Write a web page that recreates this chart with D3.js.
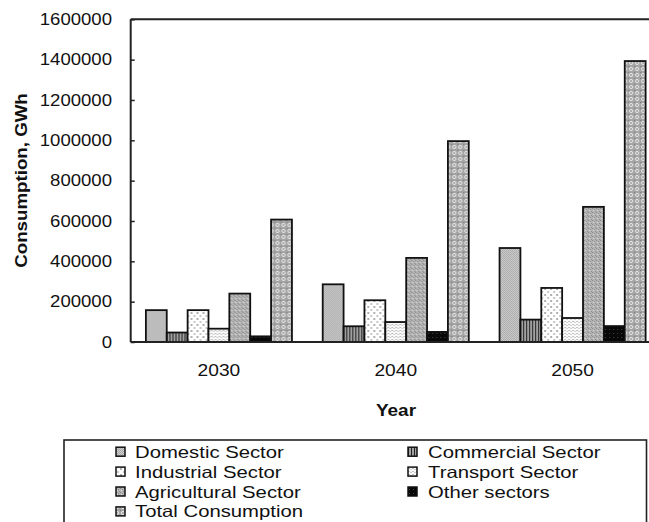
<!DOCTYPE html>
<html><head><meta charset="utf-8">
<script src="https://cdn.jsdelivr.net/npm/d3@7"></script>
<style>body{margin:0;background:#fff}svg{display:block}text{font-family:"Liberation Sans",Arial,sans-serif;fill:#111}</style>
</head><body>
<script>
const years = ["2030","2040","2050"];
const seriesNames = ["Domestic Sector","Commercial Sector","Industrial Sector","Transport Sector","Agricultural Sector","Other sectors","Total Consumption"];
const domestic    = [158000, 286000, 466000];
const commercial  = [47000, 78000, 111000];
const industrial  = [158000, 207000, 268000];
const transport   = [66000, 99000, 119000];
const agricultural= [240000, 417000, 670000];
const other       = [28000, 50000, 79000];
const total       = [607000, 996000, 1393000];
const yTicks = [0,200000,400000,600000,800000,1000000,1200000,1400000,1600000];
const seriesValues = [domestic, commercial, industrial, transport, agricultural, other, total];

const W = 649, H = 522;
const svg = d3.select("body").append("svg").attr("width", W).attr("height", H);
const defs = svg.append("defs");

function pat(id, w, h, build){ const p = defs.append("pattern").attr("id", id).attr("patternUnits","userSpaceOnUse").attr("width", w).attr("height", h); build(p); }
pat("p0", 2, 2, p => { p.append("rect").attr("width",2).attr("height",2).attr("fill","#cfcfcf");
  p.append("rect").attr("width",1).attr("height",1).attr("fill","#a8a8a8");
  p.append("rect").attr("x",1).attr("y",1).attr("width",1).attr("height",1).attr("fill","#a8a8a8"); });
pat("p1", 3, 3, p => { p.append("rect").attr("width",3).attr("height",3).attr("fill","#a0a0a0");
  p.append("rect").attr("width",1).attr("height",3).attr("fill","#222"); });
pat("p2", 6, 6, p => { p.append("rect").attr("width",6).attr("height",6).attr("fill","#fff");
  p.append("rect").attr("x",0).attr("y",0).attr("width",2).attr("height",2).attr("fill","#b0b0b0");
  p.append("rect").attr("x",3).attr("y",3).attr("width",2).attr("height",2).attr("fill","#c8c8c8"); });
pat("p3", 4, 3, p => { p.append("rect").attr("width",4).attr("height",3).attr("fill","#fafafa");
  p.append("rect").attr("x",0).attr("y",0).attr("width",2).attr("height",1).attr("fill","#c0c0c0");
  p.append("rect").attr("x",2).attr("y",1).attr("width",2).attr("height",1).attr("fill","#d0d0d0"); });
pat("p4", 4, 4, p => { p.append("rect").attr("width",4).attr("height",4).attr("fill","#b4b4b4");
  p.append("rect").attr("x",0).attr("y",0).attr("width",1).attr("height",1).attr("fill","#888");
  p.append("rect").attr("x",2).attr("y",1).attr("width",1).attr("height",1).attr("fill","#8a8a8a");
  p.append("rect").attr("x",1).attr("y",2).attr("width",1).attr("height",1).attr("fill","#d8d8d8");
  p.append("rect").attr("x",3).attr("y",3).attr("width",1).attr("height",1).attr("fill","#888"); });
pat("p5", 4, 4, p => { p.append("rect").attr("width",4).attr("height",4).attr("fill","#080808");
  p.append("rect").attr("x",1).attr("y",1).attr("width",1).attr("height",1).attr("fill","#444"); });
pat("p6", 6, 6, p => { p.append("rect").attr("width",6).attr("height",6).attr("fill","#a4a4a4");
  p.append("circle").attr("cx",3).attr("cy",3).attr("r",1.6).attr("fill","none").attr("stroke","#e8e8e8").attr("stroke-width",1);
  p.append("rect").attr("x",0).attr("y",0).attr("width",1).attr("height",1).attr("fill","#777"); });

const x0 = d3.scaleBand().domain(years).range([130.5, 661]).padding(0);
const bw = x0.bandwidth();
const x1 = d3.scaleBand().domain(seriesNames).range([bw*0.087, bw*0.913]).padding(0);
const y = d3.scaleLinear().domain([0,1600000]).range([342, 19.3]);

function txt(g, x, yy, s, size, opts={}){
  const t = g.append("text").attr("transform", `translate(${x},${yy})${opts.rot?` rotate(${opts.rot})`:""} scale(${opts.sx||1.15},1)`)
    .attr("font-size", size).attr("text-anchor", opts.anchor||"start").text(s);
  if (opts.bold) t.attr("font-weight","bold");
  return t;
}

const groups = svg.append("g").selectAll("g").data(years).join("g").attr("transform", d => `translate(${x0(d)},0)`);
groups.selectAll("rect").data((yr, i) => seriesNames.map((s, j) => ({s, j, v: seriesValues[j][i]})))
  .join("rect")
  .attr("x", d => x1(d.s)).attr("width", x1.bandwidth())
  .attr("y", d => y(d.v)).attr("height", d => y(0) - y(d.v))
  .attr("fill", d => `url(#p${d.j})`).attr("stroke", "#111").attr("stroke-width", 1.8);

const yAxis = d3.axisLeft(y).tickValues(yTicks).tickSize(-4).tickFormat(() => "");
const ga = svg.append("g").attr("transform", `translate(130.7,0)`).call(yAxis);
ga.select(".domain").remove();
ga.selectAll("line").attr("stroke","#222").attr("stroke-width",1.5);
svg.append("line").attr("x1",130.7).attr("x2",130.7).attr("y1",y(1600000)).attr("y2",y(0)).attr("stroke","#222").attr("stroke-width",2);
svg.append("line").attr("x1",130.7).attr("x2",W).attr("y1",y(0)).attr("y2",y(0)).attr("stroke","#222").attr("stroke-width",2);
svg.append("line").attr("x1",130.7).attr("x2",W).attr("y1",y(1600000)).attr("y2",y(1600000)).attr("stroke","#222").attr("stroke-width",2);

const tg = svg.append("g");
yTicks.forEach(v => txt(tg, 112, y(v)+5.8, String(v), 16, {anchor:"end", sx:1.16}));
years.forEach(yr => txt(tg, x0(yr)+bw/2, 376, yr, 17, {anchor:"middle", sx:1.13}));
txt(tg, 396, 416, "Year", 16.5, {anchor:"middle", bold:true, sx:1.15});
txt(tg, 27, 180.5, "Consumption, GWh", 16, {anchor:"middle", bold:true, rot:-90, sx:1.17});

const lg = svg.append("g");
lg.append("rect").attr("x",64).attr("y",440).attr("width",582.5).attr("height",100).attr("fill","none").attr("stroke","#222").attr("stroke-width",1.6);
const legRowY = [451.7, 471.6, 491.5, 511.4];
const colSw = [116, 408], colTx = [135, 428];
seriesNames.forEach((s, i) => {
  const col = i % 2, row = Math.floor(i / 2);
  const cy = legRowY[row];
  lg.append("rect").attr("x", colSw[col]).attr("y", cy-4.5).attr("width",9).attr("height",9)
    .attr("fill", `url(#p${i})`).attr("stroke","#111").attr("stroke-width",1.5);
  txt(lg, colTx[col], cy+6, s, 16.5, {sx:1.23});
});
</script>
</body></html>
